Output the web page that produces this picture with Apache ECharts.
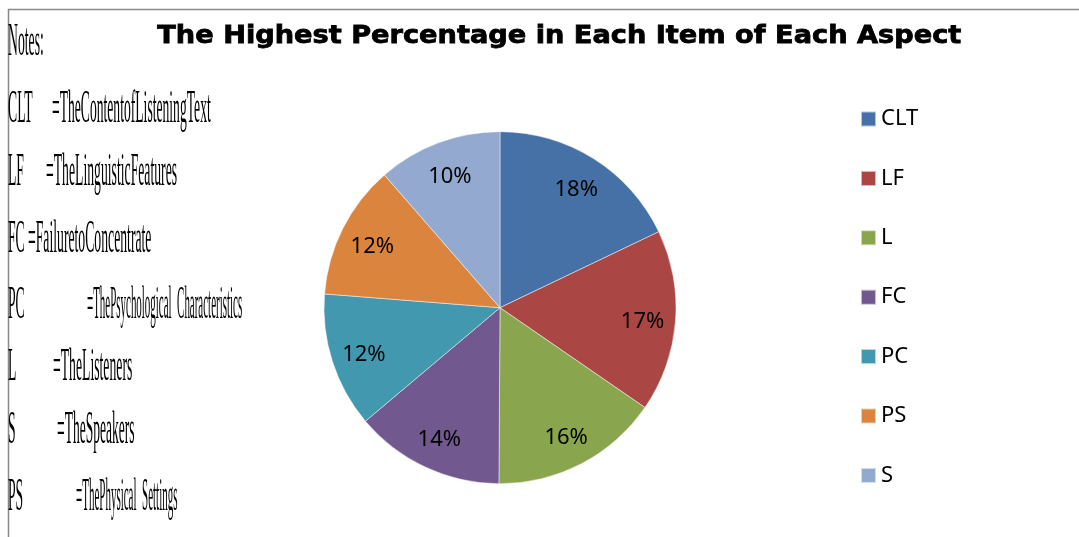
<!DOCTYPE html>
<html>
<head>
<meta charset="utf-8">
<script src="https://cdn.jsdelivr.net/npm/echarts@6/dist/echarts.min.js"></script>
<style>
html,body{margin:0;padding:0;background:#fff;}
#chart{width:1079px;height:537px;}
</style>
</head>
<body>
<div id="chart"></div>
<script>
// ---- data ----
const categories = ['CLT', 'LF', 'L', 'FC', 'PC', 'PS', 'S'];
const sliceValues = [17.9, 16.7, 15.5, 13.75, 12.4, 12.35, 11.4];
const sliceLabels = ['18%', '17%', '16%', '14%', '12%', '12%', '10%'];
const colors = ['#4671A6', '#AA4644', '#89A54E', '#71588F', '#4198AF', '#DB843D', '#93A9CF'];
const titleText = 'The Highest Percentage in Each Item of Each Aspect';
const notesHeader = 'Notes:';
const noteAbbr = ['CLT', 'LF', 'FC', 'PC', 'L', 'S', 'PS'];
const noteDefs = ['=TheContentofListeningText', '=TheLinguisticFeatures', '=FailuretoConcentrate',
  '=ThePsychological  Characteristics', '=TheListeners', '=TheSpeakers', '=ThePhysical  Settings'];

// ---- layout helpers (style only) ----
const noteDefX = [52, 46, 28, 87, 53, 57, 76];
const noteY = [110, 173, 239.5, 305.5, 368, 431, 498];
const noteDefScale = [0.296, 0.298, 0.298, 0.238, 0.298, 0.294, 0.239];

function measure(text, font) {
  const c = document.createElement('canvas').getContext('2d');
  c.font = font;
  return c.measureText(text).width;
}
const titleFont = 'bold 25px "DejaVu Sans"';
const titleScale = 804 / measure(titleText, titleFont);

const noteFontSize = 46;
const noteScaleX = 0.298;
function noteText(txt, x, y, sx) {
  return {
    type: 'text', x: x, y: y, scaleX: sx, silent: true,
    style: { text: txt, x: 0, y: 0, fill: '#000', fontFamily: '"Liberation Serif"', fontSize: noteFontSize,
      align: 'left', verticalAlign: 'middle' }
  };
}
const graphics = [
  { type: 'line', silent: true, shape: { x1: 8, y1: 9.5, x2: 1079, y2: 9.5 }, style: { stroke: '#898989', lineWidth: 1.5 } },
  { type: 'line', silent: true, shape: { x1: 8.5, y1: 9, x2: 8.5, y2: 537 }, style: { stroke: '#898989', lineWidth: 1.5 } },
  { type: 'text', x: 157.3, y: 36, scaleX: titleScale, silent: true,
    style: { text: titleText, x: 0, y: 0, fill: '#000', stroke: '#000', lineWidth: 0.8, font: titleFont, align: 'left', verticalAlign: 'middle' } },
  noteText(notesHeader, 8, 43, noteScaleX)
];
noteAbbr.forEach((a, i) => {
  graphics.push(noteText(a, 8, noteY[i], noteScaleX));
  graphics.push(noteText(noteDefs[i], noteDefX[i], noteY[i], noteDefScale[i]));
});

const pieData = categories.map((c, i) => ({ name: c, value: sliceValues[i], itemStyle: { color: colors[i] } }));
const labelData = categories.map((c, i) => ({ name: c, value: sliceValues[i], label: { formatter: sliceLabels[i] } }));

const chart = echarts.init(document.getElementById('chart'), null, { renderer: 'canvas' });
chart.setOption({
  animation: false,
  backgroundColor: '#fff',
  legend: {
    orient: 'vertical', left: 855, top: 103, height: 430,
    itemWidth: 15, itemHeight: 15, itemGap: 37.4, icon: 'rect',
    data: categories,
    textStyle: { fontFamily: '"Noto Sans"', fontSize: 22, color: '#000' }
  },
  graphic: graphics,
  series: [
    {
      type: 'pie', center: [500, 307.7], radius: [0, 176], startAngle: 90, clockwise: true,
      data: pieData, label: { show: false }, labelLine: { show: false },
      itemStyle: { borderColor: 'rgba(255,255,255,0.6)', borderWidth: 0.8 },
      emphasis: { disabled: true }, silent: true
    },
    {
      type: 'pie', center: [500, 307.7], radius: [104, 176], startAngle: 90, clockwise: true,
      data: labelData, silent: true, emphasis: { disabled: true },
      itemStyle: { color: 'rgba(0,0,0,0)', borderWidth: 0 },
      label: { show: true, position: 'inside', color: '#000', fontFamily: '"Noto Sans"', fontSize: 22, offset: [0, 3] },
      labelLine: { show: false }
    }
  ]
});
</script>
</body>
</html>
